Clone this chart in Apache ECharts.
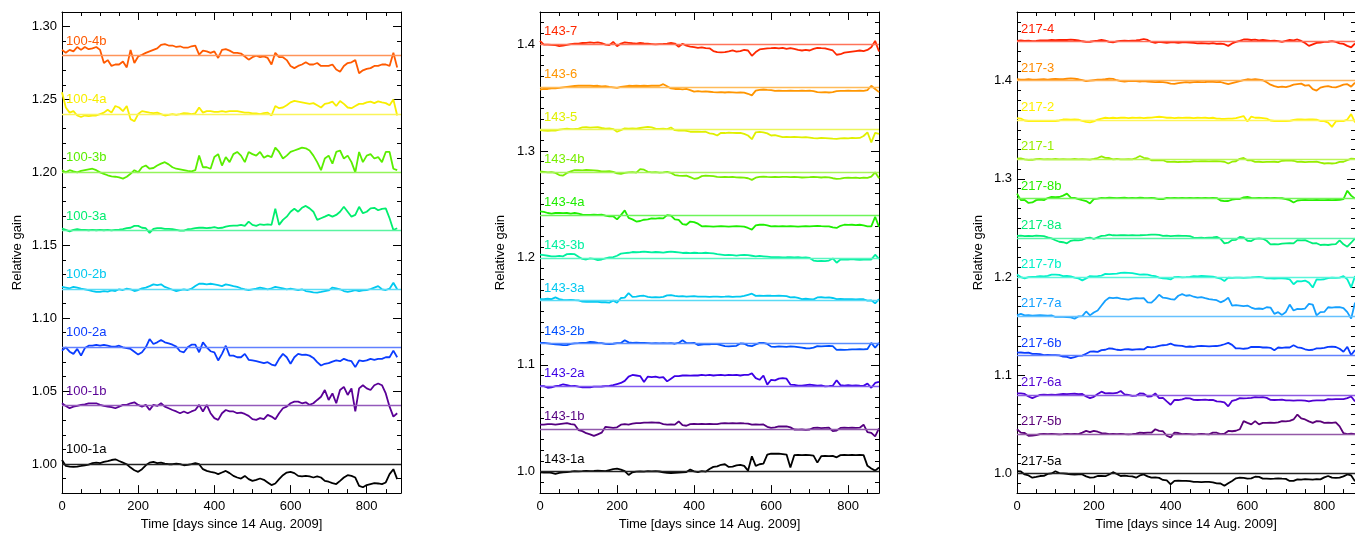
<!DOCTYPE html>
<html><head><meta charset="utf-8">
<script src="https://cdn.jsdelivr.net/npm/echarts@6/dist/echarts.min.js"></script>
<style>html,body{margin:0;padding:0;background:#fff}#c{width:1355px;height:536px}</style>
</head><body><div id="c"></div>
<script>
// Sampling grid: days since 14 Aug 2009, every 10 days
const days = Array.from({length: 89}, (_, i) => i * 10);

// Tick values
const xMajor = [0, 200, 400, 600, 800];
const yMajor100 = [1.00, 1.05, 1.10, 1.15, 1.20, 1.25, 1.30];
const yMajor143 = [1.0, 1.1, 1.2, 1.3, 1.4];
const yMajor217 = [1.0, 1.1, 1.2, 1.3, 1.4];

// Channel names, display offsets (baselines) and colours
const names100 = ['100-1a','100-1b','100-2a','100-2b','100-3a','100-3b','100-4a','100-4b'];
const base100 = [1.00,1.04,1.08,1.12,1.16,1.20,1.24,1.28];
const colors100 = ['#000000','#5a0096','#0a3cff','#00c8f0','#00ee6e','#5aee00','#f8ee00','#ff5a00'];

const names143 = ['143-1a','143-1b','143-2a','143-2b','143-3a','143-3b','143-4a','143-4b','143-5','143-6','143-7'];
const base143 = [1.00,1.04,1.08,1.12,1.16,1.20,1.24,1.28,1.32,1.36,1.40];
const colors143 = ['#000000','#550080','#3c00e6','#0050ff','#00c8f0','#00f0a0','#1eee00','#78ee00','#e0f000','#ff9600','#ff2800'];

const names217 = ['217-5a','217-5b','217-6a','217-6b','217-7a','217-7b','217-8a','217-8b','217-1','217-2','217-3','217-4'];
const base217 = [1.00,1.04,1.08,1.12,1.16,1.20,1.24,1.28,1.32,1.36,1.40,1.44];
const colors217 = ['#000000','#5a0078','#5000d2','#0a3cff','#14a0ff','#00f0c8','#00ee78','#28ee00','#96ee00','#fff000','#ff8c00','#ff1e00'];

// Relative gain deviation from each channel's baseline, in units of 0.001
const g100_1a = [2.7,-1.4,-1.8,-2,-1.8,-1.4,-0.9,-0.5,0.5,0.9,0.5,1.4,2,2.7,3.2,2,0.9,-0.2,-2.5,-4.3,-5.4,-3.6,-0.9,0.9,1.4,0.5,0.9,0.2,-0.2,-0.2,0.2,-0.2,-0.9,-0.7,-0.2,0.5,-0.2,-3.6,-4.8,-5.4,-5.9,-7,-5.9,-4.8,-6.3,-8.2,-9.3,-10,-8.2,-10.4,-11.6,-10.9,-10,-10.9,-12.7,-14.5,-13.4,-10.4,-7.7,-5.9,-5.4,-6.3,-8.2,-8.6,-8.2,-8.6,-9.3,-8.6,-9.3,-11.6,-12.2,-13.2,-13.8,-11.6,-9.3,-7.7,-8.2,-9.3,-15,-16,-14.5,-13.8,-13.2,-13.4,-13.8,-12.7,-7,-3.6,-10.4];
const g100_1b = [1.6,-0.2,-1.8,-0.7,-0.2,0.5,0.9,1.6,1.6,1.6,0.5,-0.2,-0.7,-1.1,-1.8,-0.7,0.5,0.5,1.6,2.3,0.5,-0.7,0.5,-3,0.5,-0.2,1.6,-0.7,-1.8,-3,-4,-5.2,-4,-5.2,-4,-3,0.5,-4,0.5,-5.2,-8.6,-9.8,-5.2,-3,-4,-4,-5.2,-4.8,-5.7,-7,-9.3,-9.8,-8.6,-9.3,-6.3,-7.5,-9.3,-5.2,-1.8,-0.7,1.6,2.7,2.7,1.6,2.3,0.5,1.6,3.9,6.1,10.7,3.9,8.4,1.6,10.7,12.9,7.3,11.8,-4,11.8,14,11.8,10.7,14,15.2,14,8.4,-0.7,-7.5,-5.2];
const g100_2a = [-2.3,0,-3,-4.5,-1.1,-5.7,-0.5,1.1,1.1,1.6,1.1,1.6,1.1,0.5,0.5,1.1,0,-0.5,-1.1,-3,-5,-3.4,0,5.7,2.3,3.4,5,3.4,2.7,1.8,0.5,-2.7,-3.4,0,1.8,1.8,-3.4,3.4,0,-2.7,-3.4,-9,-4.5,1.1,-5.7,-5.7,-6.8,-6.8,-4.5,-8.6,-9,-9.5,-10.2,-10.9,-10.2,-11.8,-12.5,-7.9,-4.5,-6.8,-11.3,-6.8,-4.5,-5.2,-5,-5.7,-7.3,-10.2,-12.5,-11.3,-10.9,-9.8,-9,-9.5,-7.9,-9,-9.5,-13.6,-9,-9.5,-9,-7.9,-8.6,-7.9,-7.9,-6.8,-6.8,-2.3,-6.8];
const g100_2b = [1.4,1,0.5,1.4,1,0.2,-0.2,-0.7,-1.4,-2,-2,-1.4,-1.8,-1,-1.4,-0.2,-0.7,0.2,-0.2,-1.4,-0.7,0.5,1,2,3.2,2.7,3.2,1.4,0.5,-0.5,-1.4,-0.7,-0.2,-0.7,0.2,2,3.6,3.6,3.2,3.6,3.2,2.7,2,3.2,2.7,2,1.4,0.5,-0.2,-0.7,-0.2,0.2,1,0.5,-0.2,0.5,1.4,1,0.5,-0.2,0.2,-0.2,-0.7,-0.2,-1.4,-1.8,-2.3,-2.5,-2,-1.4,-1,1,0.5,-0.2,-1.4,-2,-1.4,-0.7,-1.4,-1,-0.7,0,1,2,-0.2,-0.7,0.2,4.3,-0.2];
const g100_3a = [1.5,0.5,-0.5,0.5,1,0.5,0.5,0.3,0.5,0.3,0.5,0.3,0.5,0.2,0.5,0.7,1,1.7,2,3.3,3.3,2,1.7,-1.5,1.2,1.7,1.7,1.2,1.2,1,0.5,0,0,1,1.2,1.7,2,2,1.7,2,2.4,1.7,2,2.8,3.3,3.5,3.5,4,3.3,6.2,4,3.3,4.4,4,4.4,4,15,4,7.4,9.6,13,15,13,15.7,17,15.3,13,7.4,8.5,9.6,10.8,9.6,10.8,13,16.4,13,9.6,10.8,16.4,12,13,15.3,15.7,14,15,15.3,8.5,0.5,1.7];
const g100_3b = [1.5,0,1.5,0.7,0,1,1.5,2,2.5,1.5,0,-1,-2,-2.7,-3,-3.5,-4.3,-3,-1,1.5,0,3.5,4.7,2.5,3,4.7,6,7,5.5,3.5,2.5,2,1.5,1,0.7,1.5,11.5,3.5,3.5,2.5,10.5,12.5,4.7,10.5,7,12.5,14,11.5,7,14,12.5,11.5,14,10,11.5,10.5,17,14,9.5,11.5,14,15,16,17,16.5,15,11.5,7,1.5,9.5,11.5,6,14,15,9.5,11.5,7,0,14,7,11.5,12.5,9.5,10.5,7,14,14,2.5,1.5];
const g100_4a = [15,4.5,1,2,-1,-2,-1,-1.5,-1,-1,0,1,3,1,5.5,4.5,2,5.5,-3.5,-5,0,2,1.5,1,0.7,1,0,-1,-0.5,0,-0.5,0,0.7,0.5,0,0.5,4.5,1,2,2,1.5,1.5,2,1.5,2,2,2,1.5,1,1,0.5,0.5,0,0.7,1,-1,5.5,4,4.5,6,8,9,8.5,8,7.5,7,7.5,6,4.5,7,7.5,8.5,5.5,9,7,4.5,4,5.5,7,7,8,8.5,7.5,8.7,8,7.5,6,10,-1];
const g100_4b = [4,2,4,3,6,4,6,4.5,5,6,4,-5,-3,-7,-6,-6,-4,-8,4,-5,-0.5,0.7,2,3,4,5,7.5,8,7,7,6,6.5,5.5,5.5,6.5,7,0.7,3.5,3,2,3,-1.5,4,4.5,3.5,2,2,1.5,-0.5,-2.7,-1,0,-1,-0.5,-1.5,-6,2,-1,-1,-3,-7,-8.5,-7,-6,-4.5,-6,-6,-5,-7,-7,-7,-6,-9.5,-11,-7,-5,-4.5,-3,-12,-10,-9,-8.5,-7,-7,-6,-6,-7,2,-8];

const g143_1a = [-0.5,-0.8,-0.5,-1,-2,-1,-0.5,-0.3,0,0.5,0.3,0.5,0.8,0.5,0.7,1,0.8,0.5,1.5,2.5,2.8,2,0.5,-3,-0.5,0,0.3,0,0.5,0.3,0.5,0.2,-0.5,-1,-1.2,-1,-0.8,-0.5,-0.3,2,0.3,-0.3,0.5,0,2.5,4.5,5,6.5,7,4.5,4.8,6,6.5,5.5,1,14.5,5.5,7,7.5,16,17,16.8,17,16.5,16,4,15.5,15.8,15.5,15.7,15.5,15,8.5,14.5,14.8,14.5,14.8,13.5,15.5,15.7,15.5,15.8,15.5,15.7,15.5,5.5,3,1,4];
const g143_1b = [4,4,4.5,4.5,4,4.5,5,5.5,4.5,4,-1,-2,-4,-5,-6.5,-5,-3.5,2,1.5,1,1.5,4,4.5,4,5,5.5,5.5,6,6,6.2,6,5.8,4.5,4,4.2,4,7,3.5,3,4.5,4.8,4.5,4.7,4.5,4.8,4.5,4.6,5.2,5.5,5.3,5.5,5.3,5.5,5.2,5,4,4.2,4,4.2,2,1,1.5,2.5,2.3,2.5,1.5,-0.5,-0.6,-0.5,-0.8,-0.5,1,1.2,0.8,1,1.2,-2,-1.5,1,1.2,1,1.3,1,1.2,4,-3,-3.7,-7,0.5];
const g143_2a = [0,0,-1.5,-1,0,0.5,1.8,1,0,0.3,-0.5,-1,-1.2,-1,-0.5,-0.5,-0.3,0,0.2,1,2,3,5,9,10.5,10,9.5,4,9,8.5,9,8,8.5,4.5,7,9.5,9.5,10,10,9.8,10.2,10,10.5,10.2,10.5,10,10.3,10.5,10.2,10.5,10.3,10.5,10,10.5,10.5,12,7.5,6,10,1.5,6,5.5,7,7.5,7,1.5,1.2,0.5,0.5,1,1.5,1,0.5,0.8,-0.2,0,0.5,5.5,1,0.5,1,0.5,0.8,0.5,0.3,2.5,-1.5,3,4];
const g143_2b = [0.5,0.5,0,-0.5,-0.8,-1.2,-1.5,-1.5,-0.5,0,0.2,0.5,0.6,1.5,1.2,0.5,0.3,-0.5,-0.6,-0.3,0.3,0.5,3,1,0.5,0.8,0.5,0.6,0.3,0,0.2,0,0.3,0,0.2,-0.3,0.5,3,0.5,0.3,0.6,-1.5,-1.2,-0.6,-0.8,-0.5,-0.6,-1.5,-2.5,-2.8,-2.5,-2.2,0,-0.3,-2,-2.5,-1,0.5,0.6,-0.5,-3,-3.2,-2.8,-3,-3.2,-2.8,-3,-3.5,-4,-4.5,-4.6,-4,-2.5,-2.8,-2.5,-2.2,-2.6,-6,-5.8,-6,-5.8,-5.5,-5.6,-5.3,-5.5,-5.2,0.5,-4,0.5];
const g143_3a = [1.5,1.5,1.8,1.5,3,1.5,0.8,0.5,0.8,0.5,0.3,-0.8,-1,-1.2,-1,-1.2,-1.5,-1.5,-1.8,0,-2,2.5,2.8,7,3.5,3.8,4.5,4.6,3.5,3,3.2,3,3.5,5,5.2,4.5,4,4.2,3.8,4,4.2,3.8,3.7,3.8,3.5,3.7,3.8,3.6,3.7,3.9,3.6,3.8,3.7,4.5,5.5,6.5,4.5,4.6,4.5,4.8,4.6,4.5,4.7,4.5,4.2,3,3.2,2.5,1.5,1.8,1.5,1.2,3,3.2,2.8,3,2.5,1.5,1.7,1.5,1.3,1.5,1.2,1.5,1.3,0,0.3,-2.5,1.5];
const g143_3b = [3,2.5,2,1.5,1.5,1.8,1.5,3.5,3.7,3.5,1,-1,-1.5,-0.5,-1,-2,-1.5,-0.5,0.5,0.8,2,4,4.5,4.8,5.5,5.3,5.5,5.8,5.5,5.2,5.5,5.3,5,5.5,5.8,5.5,5.2,4.6,4.8,4.5,4.8,4.6,4.5,4.8,4.5,4.2,3.5,3,2.5,2.8,2.5,2.2,2.5,2.8,2.5,2,1.5,1.8,1.5,1.2,0.8,0.6,0.8,0.5,0.6,0.8,0.5,0.6,0.3,0.5,0,-2.5,-3,-2.8,-3,-2.5,-0.5,-4.5,-1.5,-1.3,-1.5,-1.2,-1.5,-1.8,-1.5,-1.3,-1.5,3,-1];
const g143_4a = [3.5,3,2,1.5,2,2,1.8,2,1.5,2,1.5,0.5,0.3,0.3,0.5,0.2,0.5,-0.5,-1.2,-1,-4,0,4.5,-2.5,-4,-6,-5.5,-4.3,-4,-3,-3.2,-2.8,-3,0,-0.5,-4,-4.5,-8.5,-9,-6,-6.5,-8,-10.5,-10.3,-10.5,-10.8,-10.5,-10.3,-10.5,-10.8,-10.5,-10.3,-10.5,-10.8,-12,-13.5,-9.5,-9,-8.8,-9.5,-10.5,-10.3,-10.5,-10.2,-10.5,-10.3,-10.5,-10.8,-10.5,-10.3,-10.5,-10.2,-10,-10.3,-10.5,-10.5,-11.5,-12,-10,-9,-9.2,-9,-9.3,-9,-9.5,-10.5,-10.5,-1.5,-11];
const g143_4b = [1,0.5,0,0.3,-0.5,-2.5,-3,-0.5,1,2,2,1.8,2.2,2,1.8,1.5,1,0.8,1.2,0.5,-1,-1.5,-0.5,0,0.3,-0.3,3,2.5,0.5,0,0.3,-0.3,0,0.5,-0.5,-2.5,-3,-3.2,-3,-4.5,-6,-5.5,-3.5,-3,-3.2,-3.5,-4.3,-4.5,-4.3,-4.5,-4.3,-4.6,-4.8,-5,-5.5,-7,-5,-4.3,-4,-4.3,-4.5,-4.3,-4.5,-4.2,-4.3,-4.5,-4.3,-4.5,-4.8,-4.6,-4.5,-4.3,-4.5,-4.8,-4.5,-4.6,-5.5,-6,-5.8,-5.2,-5,-5.2,-5,-5.3,-5,-5.2,-4,0,-5.5];
const g143_5 = [-0.5,-1,-1.2,-1,-1,0,0.5,0.8,0.5,0.6,1,2,2.2,1.8,2,2.2,1.5,1,1.2,0.5,-2,-0.5,1.2,1,1.2,1,1.5,2,2.5,2,1,0.6,0.8,0.5,2,-0.5,-1,-0.8,-1.2,-2,-2,-1.8,-2.2,-2,-3.5,-4,-5.5,-3,-3.2,-2.8,-3,-3.2,-3,-4,-5.5,-9,-2.5,-2.2,-2.5,-3.5,-5.5,-5.2,-6,-7,-6.8,-7,-6.8,-7,-7.2,-7,-7.5,-8,-8.2,-7.8,-8,-8.2,-8.5,-8.6,-8.3,-8,-8.2,-7.8,-8,-7.8,-6,-2.5,-12,-3,-4];
const g143_6 = [-2.5,-2,-2,-1.5,-1.5,-1,-0.5,0,0.5,0.8,1,1,1.2,1,0.8,1,0.5,0.6,0,-0.5,-1,0,0.5,1,0.8,1,0.8,1,0.8,1,1.2,1,2.5,0.5,-1.5,-2,-2,-2.3,-2,-3,-4.5,-4,-4.5,-4.3,-4.6,-5,-5.2,-5,-5.3,-5,-5.2,-5.5,-5.2,-5.5,-6.5,-8,-3.5,-2.8,-2.5,-2.8,-3,-3.7,-3.5,-3.8,-3.7,-3.5,-3.8,-3.7,-3.5,-3.8,-3.6,-4,-5,-5.2,-5,-5.3,-5,-4,-3.7,-3.8,-3.5,-3.7,-3.8,-3.6,-3.7,-3,1,-2,-5];
const g143_7 = [3,-0.5,-0.5,-0.8,-1,-2,-1.5,-0.8,0,0.3,0.5,1,1.2,1.5,1.2,1.5,0.8,-0.5,-1,2,-2,0.5,1.5,1.2,0.8,0.5,1,0.6,0.3,0,-0.3,0,0.2,0.5,1,0.5,-2.5,0.3,-1.5,-2.3,-2.8,-3.5,-3,-3.8,-4,-6.5,-7.5,-7.8,-7.5,-6.8,-6,-7,-6.5,-5.5,-6,-11,-7.5,-5,-4.5,-4,-3.8,-3.5,-4,-3.5,-4.5,-3.8,-4.6,-5.5,-6,-5.5,-6,-4.5,-3.5,-3.8,-4,-5,-6,-10,-9.5,-8,-7.5,-7,-6.5,-6,-6.5,-5.5,-3,3,-7];

const g217_5a = [2.3,2,-1,-2,-4.3,-3.5,-2.6,-2.5,-0.5,0,2.3,0.3,0,-0.3,-1,-1.2,-0.8,-1,-3,-4.3,-4,-2.6,-2.5,-2.8,-1,1.3,-0.5,-2.6,-2.3,-2.8,-3,-4.3,-2,-1,-3,-4.3,-4,-4.5,-6.6,-7,-11,-7.6,-7.3,-7.6,-7.5,-7.8,-8.6,-8.5,-8.8,-8.6,-8.5,-9,-10,-10.2,-12.6,-10,-7.6,-5,-4.3,-4.5,-5.3,-5,-3.3,-3.5,-5.3,-5.2,-5.5,-5.3,-5,-5.3,-5.5,-7.6,-7.5,-6,-6.2,-5.8,-6,-6.2,-5.8,-6,-4,-2.6,-4.3,-4.5,-4.2,-3,-1,-2,-8];
const g217_5b = [5,1.6,1.2,-1.6,-1.5,-1,0,0.3,0,0.2,0,-0.2,0,0.3,0,0.2,0,1.6,3.3,2,3.3,2.5,1,0.8,0,0.2,0,0.3,0,-0.2,0,0.5,1.6,1.2,1.6,1.5,5,3.3,3,-1.6,-3.3,1.6,1.2,0,0.2,0,-0.2,0,0.3,0,-0.2,1.6,1.5,0,0.5,3.3,3,3.5,5,13.3,11.6,10,13.3,10,11.6,11.5,11.8,11.6,12,13.3,13,13.5,15,20,16,15,13,11.6,13.3,13,11.6,11.8,11.6,12,8,1,0,0.5,0];
const g217_6a = [1.6,1.5,1,-1.6,-3.3,-1.6,0,0.3,0,0.2,0,0.5,1,0.8,1,1.2,0.8,1,-1.6,-3.3,-2,1,3.3,1.6,1.8,1.5,2,4,0.5,0,-1,-0.8,1.6,1.2,-1.6,-1.5,1.6,-3.3,-3,-6.6,-10,-5,-5.2,-4.5,-3.3,-3.5,-5,-5.2,-5,-4.8,-5.2,-5,-6.6,-6.8,-7.5,-11.6,-6,-5,-3.3,-3.5,-3.3,-3,-2.3,-2.5,-2.3,-3,-5,-5.2,-5,-4.8,-5.6,-5.5,-5.8,-5.6,-5.5,-5.8,-6.6,-5.8,-5.6,-5.5,-5.6,-4.3,-4.5,-4.3,-4.2,-4.3,-3.3,-1.6,-6.6];
const g217_6b = [3,3.2,2.8,3,1.7,1.8,1.5,0.6,0.8,0.5,0.6,0.3,-1,-1.2,-2.6,-1.5,-0.3,0,2,4,4.2,3.8,5.6,6,7.3,7,6,5.6,6.3,6.5,6,6.3,6.5,6.3,9,8.5,9,10,10.6,11,12.3,10.6,10.3,10,9,9.3,9,9.6,9.8,9.6,9.4,9.6,9.8,10.5,11.6,13,11,7.3,7.5,7,7.3,9,8.8,9,8.3,8.5,8,5.6,8.3,8,8.5,8.3,10.6,8.5,8,6.5,5.6,6,7.3,7.5,8,9,9.2,8.8,7,4,9,0.6,5.6];
const g217_7a = [1,2.6,1,1.2,0.8,1,1.2,1,0.8,1,-0.6,-0.5,-0.6,-0.8,-1,-2.3,0,0.3,5,1,4,6,11,16,19,18.5,19,18,17.6,17,18,18.6,18.3,18.6,14.3,14,17.6,22,19,18.5,17.6,17,21,22.6,21,21.5,20,19,19.5,18.5,17.6,17,16.5,14.3,16,19,11,11.5,11,10.5,11,9,7.6,8,7.5,9.3,9,2.6,4.3,1.5,4.5,12,6,7.6,7.3,8,12.7,12,1,4.3,4.5,9.3,9,9.5,9.3,8.5,4.3,-2.3,14];
const g217_7b = [2.6,0,-1.3,0,0.3,0.5,1,0.8,1.2,2.5,2.6,2.2,1,1.2,0.8,-0.5,-1.3,-3.3,-1.3,1,0.8,1,1.5,3.3,3,3.3,3.5,4.3,4.5,4.3,4,3.3,2.6,2.8,2.5,1.5,1,-0.5,-1.3,-1.5,-2.3,0,0.2,-0.2,0,0.3,1,0.8,1.2,1,0.8,0.5,-0.6,-1.5,-4,-0.6,-0.8,-0.5,-0.6,-0.8,-0.5,-0.3,0,0.2,-0.2,-1.3,-1.2,-1.5,-1.3,-1.2,-1.5,-2.3,-7.3,-4,-4.3,-3.5,-5.6,-10.6,-2.3,-2.5,-2.2,-1,-0.6,-0.8,-0.6,1,-2.3,-10.6,1];
const g217_8a = [2,2.2,1.8,2,1.8,2.2,2,1.8,0.5,-0.6,-2.5,-4,-4.5,-5.6,-3,-2.3,-2.5,-2,-0.3,0.3,-1.2,0.5,2,2.2,3.3,2.6,2.5,2.8,2.6,2.4,2.7,2.5,2.6,2.8,3,3.3,3.2,3,2,2.2,1.8,2,2.2,1.9,2,1.8,0.3,0,0.3,-0.2,0.2,0.5,1,-1,-5.6,-5,-2.3,-2,1,0.5,-3,-3.3,-1,-0.6,-1,-3,-6.6,-6.5,-6.6,-6,-5.6,-5.5,-5.6,-2.3,-2.5,-2.3,-4,-5.6,-5.5,-7.3,-7,-7.3,-6.6,-6.5,-2.5,-6.6,-9,-5,-0.6];
const g217_8b = [5,-1.6,-1.5,-4.5,-4,-1.6,-1.2,-1.6,0.5,1.6,1.5,1.6,3,5,1,0.6,-0.5,-1.6,-2.5,-5,-0.5,0,0.6,0.5,0.8,0.6,0.4,0.6,0.8,0.5,0.6,0.4,0.8,0.6,0.5,0.7,0.3,-0.6,-0.5,0.6,0.5,0.7,0.5,0.6,0.4,0.6,0.5,0.7,0.5,0.6,0.4,0.6,0.5,-2,-2.6,-2.5,-1.2,-0.6,-0.5,1.2,1.6,0.6,0.5,0.7,0.5,0.6,0.4,0.6,0.5,0.3,-0.5,-1.6,-4,-2,-1.6,-1.5,-1.7,-1.6,-1.5,-1.6,-1.7,-1.5,-1.6,-1.5,-1.4,-0.5,8,3,0];
const g217_1 = [0.6,0.8,0,-0.6,-0.5,0.2,0.3,0,0.2,0,0.3,0,0.2,-0.2,0,0.3,0,0.2,0,-0.3,0.3,1.3,3,1.5,1.3,0,0.3,-0.2,0,0.2,0,1.3,3.3,1.5,1,-1,-0.8,-1.2,-1,-2.5,-2.7,-2.5,-2.8,-2.7,-2.5,-2.7,-2,-2.2,-1.8,-2,-2.2,-1.8,-2,-2.2,-2.5,-4.3,-2.5,-2,0.5,1.3,-1,-1.2,-2.7,-2.5,-2.8,-2.6,-2.7,-2.5,-2.8,-1.5,-1.3,-1.2,-1.5,-2.7,-2.5,-2.8,-2.6,-2.7,-2.5,-3.5,-4.3,-4,-4.3,-4,-2.7,-2.5,-1,0.6,0.3];
const g217_2 = [2,1.5,-0.5,-1,-1.2,-1,-0.8,-1,-1.2,-0.8,-1,-0.5,0.5,0.6,0.3,0.6,0.3,-1,-2,-2.5,-1.5,0.5,1.5,2.3,2,2.3,2,2.3,2.5,2,2.3,2.2,2.5,2,2.3,2.5,3,3.3,3,2.3,2.5,2,2.3,2.2,2.5,2.3,2,2.3,2.2,2.3,2,2.3,1.5,1.3,1.2,1.5,1.3,2,3,4,-1.5,3.5,2.3,2.5,2,1.5,-0.5,-1,-0.8,-1,-1.2,-0.8,0,0.6,0.5,0.3,0.6,0.5,0.3,-1,-1.2,-2.6,-7,-1.5,-1,-1.2,0.5,6,-2.5];
const g217_3 = [1.5,1.2,1,1.5,1.2,1,1.3,1.5,1.2,1.5,1.8,1.5,1.7,2,2.3,2,1.5,0.5,-0.5,0,0.5,1,1.2,1.5,2,1.8,0.5,-0.5,-0.8,-0.5,-0.3,-0.5,-0.8,-0.5,-1,-1.2,-1.5,-1.3,-1.5,-2,-3,-3.3,-2.5,-2,-1.5,-1.8,-1.5,-1.2,-1.5,-1.3,-1,-1.2,-1.5,-1.3,-2.5,-3.5,-2.5,-1.5,-0.5,0.5,1.5,1.2,1.5,1,0.5,-1.5,-4,-5.5,-6.5,-6,-6.5,-5.5,-4,-3.5,-3,-5,-4.5,-8.5,-10,-7,-6,-5.5,-6.5,-6.8,-5.5,-4,-3.5,-6,-2];
const g217_4 = [0.5,1,0.5,0.8,0.3,0.5,1,1.2,1,1.5,1.3,1.5,1.7,1.5,1.8,1.5,1,0.2,-0.5,-0.3,0.3,0.8,1.5,0.8,-0.5,-1,0,0.5,0.7,0.5,0.8,1,1.5,2.5,1.5,-0.5,-1.5,-0.5,-1,-1.5,-1,-0.8,-1.5,-1,-0.8,-1.2,-1.5,-2,-1.8,-2,-2.3,-1.8,-2.5,-2.2,-2.8,-4.5,-2,-0.5,0.5,2,2,1.5,1.8,1.2,1.5,1,0.5,0.8,0.3,-0.5,0.5,1.5,1.2,2,0.5,-1.5,-4.5,-3,-1.5,-1.2,-0.5,-0.3,0.3,-0.5,-2,-2.5,-4.5,-6,-2];

const FONT = '"Liberation Sans", Arial, Helvetica, sans-serif';

// lighter tint of a colour for the reference (baseline) lines
function tint(hex, f) {
  const n = parseInt(hex.slice(1), 16);
  const r = (n >> 16) & 255, g = (n >> 8) & 255, b = n & 255;
  const m = c => Math.round(c + (255 - c) * f);
  return 'rgb(' + m(r) + ',' + m(g) + ',' + m(b) + ')';
}

const panels = [
  {names: names100, base: base100, colors: colors100,
   devs: [g100_1a,g100_1b,g100_2a,g100_2b,g100_3a,g100_3b,g100_4a,g100_4b],
   left: 62, width: 339, height: 485, xMax: 890, yMin: 0.98, yMax: 1.31,
   yMajor: yMajor100, majorStep: 5, yDec: 2, nameGapY: 38, labelDy: 8},
  {names: names143, base: base143, colors: colors143,
   devs: [g143_1a,g143_1b,g143_2a,g143_2b,g143_3a,g143_3b,g143_4a,g143_4b,g143_5,g143_6,g143_7],
   left: 540, width: 339, height: 486, xMax: 880, yMin: 0.98, yMax: 1.43,
   yMajor: yMajor143, majorStep: 10, yDec: 1, nameGapY: 33, labelDy: 6},
  {names: names217, base: base217, colors: colors217,
   devs: [g217_5a,g217_5b,g217_6a,g217_6b,g217_7a,g217_7b,g217_8a,g217_8b,g217_1,g217_2,g217_3,g217_4],
   left: 1017, width: 338, height: 486, xMax: 880, yMin: 0.98, yMax: 1.47,
   yMajor: yMajor217, majorStep: 10, yDec: 1, nameGapY: 32, labelDy: 6}
];

const option = {animation: false, backgroundColor: '#fff', textStyle: {fontFamily: FONT},
  grid: [], xAxis: [], yAxis: [], series: []};

const tickStyle = {color: '#000', width: 1};
const lineOn = {show: true, onZero: false, lineStyle: {color: '#000', width: 1}};
const lineOff = {show: false, onZero: false};

panels.forEach((P, p) => {
  option.grid.push({left: P.left, top: 12, width: P.width, height: P.height});
  const xMinor = [];
  for (let v = 50; v < P.xMax; v += 50) if (v % 200 !== 0) xMinor.push(v);
  const yMinor = [];
  for (let k = Math.round(P.yMin * 100); k <= Math.round(P.yMax * 100); k++) if (k % P.majorStep !== 0) yMinor.push(k / 100);

  const xb = {gridIndex: p, type: 'value', min: 0, max: P.xMax, splitLine: {show: false}};
  option.xAxis.push(Object.assign({}, xb, {position: 'bottom', axisLine: lineOn,
    axisTick: {show: true, inside: true, length: 8, customValues: xMajor, lineStyle: tickStyle},
    axisLabel: {show: true, customValues: xMajor, margin: 7, fontSize: 13, color: '#000', fontFamily: FONT},
    name: 'Time [days since 14 Aug. 2009]', nameLocation: 'middle', nameGap: 22,
    nameTextStyle: {fontSize: 13, color: '#000', fontFamily: FONT}}));
  option.xAxis.push(Object.assign({}, xb, {position: 'bottom', axisLine: lineOff,
    axisTick: {show: true, inside: true, length: 4, customValues: xMinor, lineStyle: tickStyle}, axisLabel: {show: false}}));
  option.xAxis.push(Object.assign({}, xb, {position: 'top', axisLine: lineOn,
    axisTick: {show: true, inside: true, length: 8, customValues: xMajor, lineStyle: tickStyle}, axisLabel: {show: false}}));
  option.xAxis.push(Object.assign({}, xb, {position: 'top', axisLine: lineOff,
    axisTick: {show: true, inside: true, length: 4, customValues: xMinor, lineStyle: tickStyle}, axisLabel: {show: false}}));

  const yb = {gridIndex: p, type: 'value', min: P.yMin, max: P.yMax, splitLine: {show: false}};
  option.yAxis.push(Object.assign({}, yb, {position: 'left', axisLine: lineOn,
    axisTick: {show: true, inside: true, length: 8, customValues: P.yMajor, lineStyle: tickStyle},
    axisLabel: {show: true, customValues: P.yMajor, margin: 5, fontSize: 13, color: '#000', fontFamily: FONT,
      formatter: v => Number(v).toFixed(P.yDec)},
    name: 'Relative gain', nameLocation: 'middle', nameGap: P.nameGapY,
    nameTextStyle: {fontSize: 13, color: '#000', fontFamily: FONT}}));
  option.yAxis.push(Object.assign({}, yb, {position: 'left', axisLine: lineOff,
    axisTick: {show: true, inside: true, length: 4, customValues: yMinor, lineStyle: tickStyle}, axisLabel: {show: false}}));
  option.yAxis.push(Object.assign({}, yb, {position: 'right', axisLine: lineOn,
    axisTick: {show: true, inside: true, length: 8, customValues: P.yMajor, lineStyle: tickStyle}, axisLabel: {show: false}}));
  option.yAxis.push(Object.assign({}, yb, {position: 'right', axisLine: lineOff,
    axisTick: {show: true, inside: true, length: 4, customValues: yMinor, lineStyle: tickStyle}, axisLabel: {show: false}}));

  P.devs.forEach((dev, i) => {
    const base = P.base[i], col = P.colors[i];
    option.series.push({
      type: 'line', name: P.names[i], xAxisIndex: 4 * p, yAxisIndex: 4 * p,
      data: days.map((d, k) => [d, +(base + dev[k] / 1000).toFixed(5)]),
      showSymbol: false, symbol: 'none', silent: true, z: 3,
      lineStyle: {color: col, width: 1.8}, itemStyle: {color: col},
      emphasis: {disabled: true},
      markLine: {silent: true, symbol: 'none', animation: false, precision: 4,
        lineStyle: {color: col === '#000000' ? '#222222' : tint(col, 0.35), width: 1.3, type: 'solid'},
        label: {show: true, position: 'insideStartTop', distance: [4, P.labelDy], formatter: P.names[i],
          color: col, fontSize: 13, fontFamily: FONT},
        emphasis: {disabled: true},
        data: [{yAxis: base}]}
    });
  });
});

const chart = echarts.init(document.getElementById('c'), null, {renderer: 'canvas'});
chart.setOption(option);
</script>
</body></html>
